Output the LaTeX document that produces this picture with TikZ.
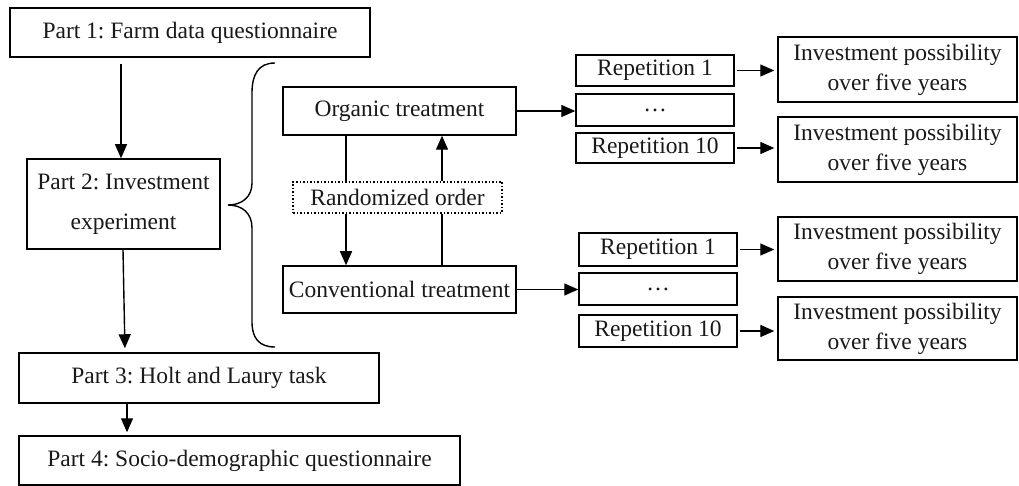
\documentclass[tikz,border=0pt]{standalone}
\usepackage{fontspec}
\setmainfont{Liberation Serif}
\usetikzlibrary{arrows.meta}
\frenchspacing
\begin{document}
\begin{tikzpicture}[x=1pt,y=-1pt,
  box/.style={draw, line width=1.5pt, inner sep=0pt, align=center,
    font=\fontsize{23.5}{28}\selectfont, text=black!90},
  dotbox/.style={box, dotted, line width=1.1pt},
  link/.style={line width=1.4pt},
  arr/.style={line width=1.4pt, -{Triangle[length=14pt,width=12pt]}}]
\useasboundingbox (0,0) rectangle (1019,486);
% left column
\node[box, minimum width=360pt, minimum height=49pt] (p1) at (190,32.5) {Part 1: Farm data questionnaire};
\node[box, minimum width=193pt, minimum height=90pt, font=\fontsize{23.5}{40}\selectfont] (p2) at (123.5,204) {Part 2: Investment\\experiment};
\node[box, minimum width=360pt, minimum height=50pt] (p3) at (199,378) {Part 3: Holt and Laury task};
\node[box, minimum width=441pt, minimum height=49pt] (p4) at (239.5,460.5) {Part 4: Socio-demographic questionnaire};
% treatments
\node[box, minimum width=233pt, minimum height=48pt] (org) at (399.5,111) {Organic treatment};
\node[box, minimum width=233pt, minimum height=47pt] (conv) at (399.5,289.5) {Conventional treatment};
\node[dotbox, minimum width=209pt, minimum height=31pt] (rand) at (397.5,197.5) {Randomized order};
% repetitions (top)
\node[box, minimum width=158pt, minimum height=31pt] (r1a) at (655,70.5) {Repetition 1};
\node[box, minimum width=158pt, minimum height=32pt] (dota) at (655,110) {\dots};
\node[box, minimum width=158pt, minimum height=30pt] (r10a) at (655,148) {Repetition 10};
% repetitions (bottom)
\node[box, minimum width=158pt, minimum height=33pt] (r1b) at (658,249.5) {Repetition 1};
\node[box, minimum width=158pt, minimum height=32pt] (dotb) at (658,289) {\dots};
\node[box, minimum width=158pt, minimum height=32pt] (r10b) at (658,331) {Repetition 10};
% investment boxes
\tikzset{inv/.style={box, minimum width=239pt, font=\fontsize{23.5}{30}\selectfont}}
\node[inv, minimum height=65pt] (ia1) at (897.5,69.5) {Investment possibility\\over five years};
\node[inv, minimum height=65pt] (ia2) at (897.5,149.5) {Investment possibility\\over five years};
\node[inv, minimum height=64pt] (ib1) at (897.5,249) {Investment possibility\\over five years};
\node[inv, minimum height=63pt] (ib2) at (897.5,328.5) {Investment possibility\\over five years};
% helper coordinates
\coordinate (c1) at (121,0);
\coordinate (c2a) at (123,0);
\coordinate (c2b) at (125,0);
\coordinate (c3) at (127,0);
\coordinate (L) at (346,0);
\coordinate (R) at (442,0);
% left column arrows
\draw[arr, shorten <=6pt] (p1.south -| c1) -- (p2.north -| c1);
\draw[arr, shorten >=4pt] (p2.south -| c2a) -- (p3.north -| c2b);
\draw[arr, shorten >=3pt] (p3.south -| c3) -- (p4.north -| c3);
% brace
\draw[link] (275,63) .. controls (258,63) and (252,75) .. (252,93)
  -- (252,183) .. controls (252,197) and (242,205) .. (228,205)
  .. controls (242,205) and (252,213) .. (252,228)
  -- (252,322) .. controls (252,338) and (259,347) .. (275,347);
% randomized order connectors
\draw[link] (org.south -| L) -- (rand.north -| L);
\draw[arr] (rand.south -| L) -- (conv.north -| L);
\draw[link] (conv.north -| R) -- (rand.south -| R);
\draw[arr] (rand.north -| R) -- (org.south -| R);
% treatment to repetitions
\draw[arr] (org.east) -- (dota.west |- org.east);
\draw[arr] (conv.east) -- (dotb.west |- conv.east);
% repetitions to investment
\draw[arr, shorten <=2pt, shorten >=3pt] (r1a.east) -- (ia1.west |- r1a.east);
\draw[arr, shorten <=2pt, shorten >=3pt] (r10a.east) -- (ia2.west |- r10a.east);
\draw[arr, shorten <=2pt, shorten >=3pt] (r1b.east) -- (ib1.west |- r1b.east);
\draw[arr, shorten <=2pt, shorten >=3pt] (r10b.east) -- (ib2.west |- r10b.east);
\end{tikzpicture}
\end{document}
